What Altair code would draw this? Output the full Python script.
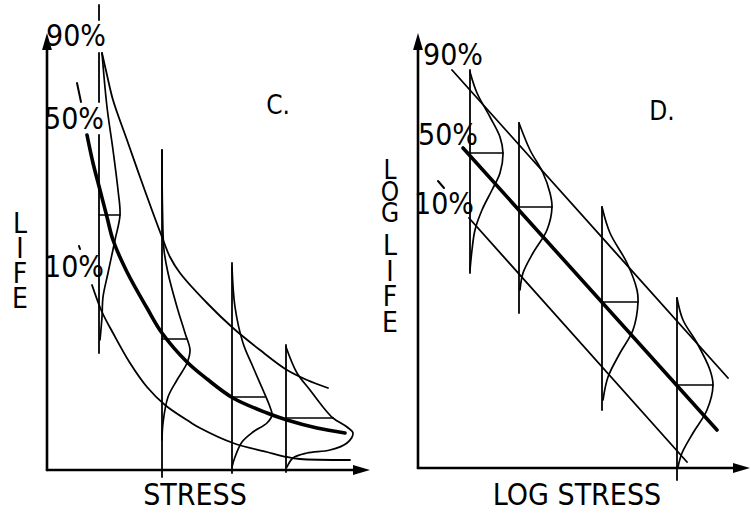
import altair as alt
import pandas as pd

FONT = "Liberation Sans Narrow, DejaVu Sans Condensed, Liberation Sans, sans-serif"

# ---------------- Panel C : STRESS vs LIFE (units measured from the axes corner) ----
C_P90 = [(55, 417), (60, 395), (66, 370), (80, 330), (93, 293), (106, 257), (115, 233),
         (123, 213), (133, 197), (160, 167), (186, 142), (213, 120), (240, 100), (260, 90), (281, 82)]
C_P50 = [(40, 335), (46, 307), (53, 280), (60, 253), (66, 230), (80, 198), (100, 162),
         (115, 137), (140, 108), (160, 91), (186, 72), (220, 57), (240, 50), (270, 42), (298, 37)]
C_P10 = [(45, 185), (55, 158), (66, 137), (83, 107), (100, 83), (118, 65), (143, 48),
         (153, 42), (186, 27), (220, 18), (240, 13), (253, 11), (303, 10)]
C_LEVELS = [52, 115, 185, 239]
C_LEVEL_SPANS = [[(450, 465), (368, 417), (117, 335)], [(-7, 320)], [(-3, 207)], [(-2, 125)]]
C_DISTS = [
    [(55, 417), (60, 363), (66, 320), (71, 280), (73, 255), (68, 230), (61, 197), (56, 173), (55, 153), (53, 130)],
    [(115, 320), (115.5, 260), (117, 220), (121, 197), (130, 163), (138, 137), (143, 120), (140, 107),
     (130, 90), (121, 73), (116, 47), (115, 30)],
    [(185, 203), (188, 163), (196, 127), (206, 103), (216, 80), (223, 63), (225, 55), (220, 47),
     (206, 38), (195, 28), (188, 13), (185, 3)],
    [(239, 123), (250, 97), (263, 80), (276, 63), (286, 52), (300, 43), (306, 37), (300, 27),
     (283, 20), (260, 17), (246, 12), (240, 3)],
]
C_MEDIAN_LIFE = [255, 131, 73, 52]
C_MEDIAN_END = [73, 140, 218, 286]

# ---------------- Panel D : LOG STRESS vs LOG LIFE ----------------------------------
D_P90 = [(34, 398), (310, 90)]
D_P50 = [(45, 320), (299, 38)]
D_P10 = [(51, 250), (269, 6)]
D_LEVELS = [52, 101, 184, 259]
D_LEVEL_SPANS = [[(195, 398)], [(155, 345)], [(58, 261)], [(-12, 170)]]
D_DISTS = [
    [(52, 396), (59, 375), (72, 351), (82, 331), (85, 315), (82, 295), (74, 278), (64, 258),
     (57, 238), (54, 218), (52, 198)],
    [(101, 345), (112, 318), (125, 295), (132, 275), (134, 261), (129, 238), (115, 215), (105, 195), (102, 178)],
    [(184, 261), (192, 235), (209, 205), (219, 178), (220, 166), (215, 138), (202, 115), (190, 91), (185, 68)],
    [(259, 170), (265, 148), (279, 125), (292, 98), (295, 83), (289, 58), (275, 35), (264, 15), (260, 1)],
]
D_MEDIAN_LIFE = [315, 261, 166, 83]
D_MEDIAN_END = [85, 134, 220, 295]

ARROW = "M0,-1L0.58,1L-0.58,1Z"


def rows_for(name, pts, w):
    return [dict(curve=name, i=k, x=x, y=y, w=w) for k, (x, y) in enumerate(pts)]


def build_rows(p90, p50, p10, levels, spans, dists, med_life, med_end, x_tip, y_tip, marks):
    rows = []
    rows += rows_for("p90", p90, 1.8)
    rows += rows_for("p50", p50, 3.6)
    rows += rows_for("p10", p10, 1.8)
    for j, (lv, sp) in enumerate(zip(levels, spans)):
        for s, (a, b) in enumerate(sp):
            rows += rows_for(f"v{j}_{s}", [(lv, a), (lv, b)], 1.8)
    for j, d in enumerate(dists):
        rows += rows_for(f"dist{j}", d, 1.7)
    for j, (lv, ml, me) in enumerate(zip(levels, med_life, med_end)):
        rows += rows_for(f"med{j}", [(lv, ml), (me, ml)], 1.6)
    rows += rows_for("yaxis", [(0, 0), (0, y_tip - 12)], 2.6)
    rows += rows_for("xaxis", [(0, 0), (x_tip - 12, 0)], 2.6)
    for j, m in enumerate(marks):
        rows += rows_for(f"mark{j}", m, 2.0)
    return rows


def panel(rows, texts, stacks, x_tip, y_tip, xdom, ydom, width):
    xs = alt.Scale(domain=xdom, nice=False, zero=False)
    ys = alt.Scale(domain=ydom, nice=False, zero=False)
    X = alt.X("x:Q", scale=xs, axis=None)
    Y = alt.Y("y:Q", scale=ys, axis=None)
    lines = alt.Chart(pd.DataFrame(rows)).mark_line(
        color="black", interpolate="catmull-rom", strokeCap="round", strokeJoin="round"
    ).encode(
        x=X, y=Y,
        detail="curve:N",
        order="i:Q",
        strokeWidth=alt.StrokeWidth("w:Q", scale=None),
    )
    arrows = alt.Chart(pd.DataFrame([
        dict(x=0, y=y_tip - 8.5, a=0),
        dict(x=x_tip - 8.5, y=0, a=90),
    ])).mark_point(shape=ARROW, filled=True, color="black", opacity=1, size=289, strokeWidth=0).encode(
        x=X, y=Y,
        angle=alt.Angle("a:Q", scale=None),
    )
    text = alt.Chart(pd.DataFrame(texts)).mark_text(
        font=FONT, color="black", align="center", baseline="middle"
    ).encode(
        x=X, y=Y,
        text="t:N",
        size=alt.Size("fs:Q", scale=None),
    )
    layers = [lines, arrows, text]
    for st in stacks:
        # letters stacked one under another; y is the centre of the first letter
        layers.append(
            alt.Chart(pd.DataFrame([dict(t="\n".join(st["word"]), x=st["x"], y=st["y"])])).mark_text(
                font=FONT, color="black", align="center", baseline="middle",
                fontSize=st["fs"], lineBreak="\n", lineHeight=st["lh"]
            ).encode(x=X, y=Y, text="t:N")
        )
    return alt.layer(*layers).properties(width=width, height=517)


c_rows = build_rows(C_P90, C_P50, C_P10, C_LEVELS, C_LEVEL_SPANS, C_DISTS,
                    C_MEDIAN_LIFE, C_MEDIAN_END, 323, 437,
                    [[(30, 387), (34, 368)], [(32, 224), (33, 221)]])
c_texts = [
    dict(t="90%", x=29, y=433, fs=30),
    dict(t="50%", x=27, y=350, fs=30),
    dict(t="10%", x=27, y=202, fs=30),
    dict(t="C.", x=231, y=364, fs=26),
    dict(t="STRESS", x=148, y=-26, fs=30),
]
c_stacks = [dict(word="LIFE", x=-27, y=245, fs=28, lh=25)]

d_rows = build_rows(D_P90, D_P50, D_P10, D_LEVELS, D_LEVEL_SPANS, D_DISTS,
                    D_MEDIAN_LIFE, D_MEDIAN_END, 332, 435,
                    [[(20, 287), (26, 280)]])
d_texts = [
    dict(t="90%", x=35, y=412, fs=30),
    dict(t="50%", x=30, y=332, fs=30),
    dict(t="10%", x=26, y=263, fs=30),
    dict(t="D.", x=244, y=356, fs=26),
    dict(t="LOG STRESS", x=159, y=-28, fs=30),
]
d_stacks = [dict(word="LOG", x=-28, y=297, fs=26, lh=21.5),
            dict(word="LIFE", x=-28, y=221, fs=28, lh=25.5)]

left = panel(c_rows, c_texts, c_stacks, 323, 437, [-47, 328], [-47, 470], 375)
right = panel(d_rows, d_texts, d_stacks, 332, 435, [-43, 333], [-49, 468], 376)

chart = alt.hconcat(left, right, spacing=0).properties(padding=0).configure_view(stroke=None)
chart.save("out.html", embed_options={"renderer": "svg", "actions": False})
